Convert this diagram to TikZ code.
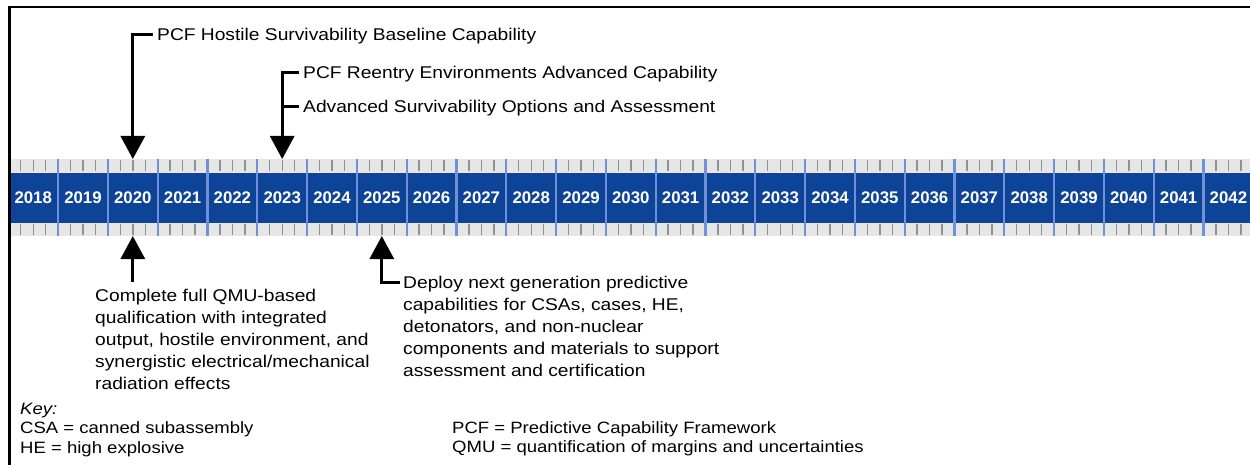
\documentclass[tikz,border=0pt]{standalone}
\usepackage{fontspec}
\setmainfont{Liberation Sans}[FakeStretch=1.13]
\newfontfamily\yearfont{Liberation Sans}
\usetikzlibrary{arrows.meta,calc}
\definecolor{bandblue}{RGB}{14,68,152}
\definecolor{divblue}{RGB}{112,144,216}
\definecolor{stripgray}{RGB}{230,230,230}
\definecolor{tickgray}{RGB}{145,145,145}
\begin{document}
\begin{tikzpicture}[x=1pt,y=-1pt,
  body/.style={font=\fontsize{17}{22}\selectfont, inner sep=0pt, align=left},
  keytext/.style={font=\fontsize{16.4}{19.5}\selectfont, inner sep=0pt, align=left},
  yearlbl/.style={font=\yearfont\bfseries\fontsize{16.8}{16.8}\selectfont, text=white, inner sep=0pt, text height=12pt, text depth=0pt},
  conn/.style={line width=3pt, line join=miter, line cap=butt},
  pointer/.style={conn, -{Triangle[width=24pt,length=23pt]}},
  tick/.style={tickgray, line width=1.4pt},
  divider/.style={divblue, line width=2.2pt}
]
\useasboundingbox (0,0) rectangle (1250,465);
\fill[white] (0,0) rectangle (1250,465);
% timeline band
\fill[stripgray] (9,159) rectangle (1250,173);
\fill[bandblue] (9,173) rectangle (1250,223);
\fill[stripgray] (9,223) rectangle (1250,236);
\coordinate (topedge) at (0,159);
\coordinate (botedge) at (0,236);
\foreach \i in {0,...,24} {
  \pgfmathsetmacro\xa{8.3+49.8*\i}
  \foreach \k in {1,2,3} {
    \draw[tick] (\xa+12.45*\k,160.5) -- (\xa+12.45*\k,171.5);
    \draw[tick] (\xa+12.45*\k,224.5) -- (\xa+12.45*\k,234.5);
  }
}
\foreach \i in {1,...,25} {
  \draw[divider] (8.3+49.8*\i,159) -- (8.3+49.8*\i,236);
}
\foreach \i in {0,...,24} {
  \pgfmathtruncatemacro\yr{2018+\i}
  \pgfmathsetmacro\xc{8.3+49.8*(\i+0.5)}
  \node[yearlbl] (y\yr) at (\xc,198) {\yr};
}
% texts
\node[body, anchor=base west] (t1) at (157,41) {PCF Hostile Survivability Baseline Capability};
\node[body, anchor=base west] (t2) at (303,79) {PCF Reentry Environments Advanced Capability};
\node[body, anchor=base west] (t3) at (303,113) {Advanced Survivability Options and Assessment};
\node[body, anchor=north west] (t4) at (95,287) {\rule{0pt}{14pt}Complete full QMU-based\\qualification with integrated\\output, hostile environment, and\\synergistic electrical/mechanical\\radiation effects};
\node[body, anchor=north west] (t5) at (403,274) {\rule{0pt}{14pt}Deploy next generation predictive\\capabilities for CSAs, cases, HE,\\detonators, and non-nuclear\\components and materials to support\\assessment and certification};
\node[keytext, anchor=north west] (key) at (20,400) {\rule{0pt}{14pt}\textit{Key:}\\CSA = canned subassembly\\HE = high explosive};
\node[keytext, anchor=north west] (key2) at (452,419) {\rule{0pt}{14pt}PCF = Predictive Capability Framework\\QMU = quantification of margins and uncertainties};
% connectors
\draw[pointer] ([shift={(-4pt,6pt)}]t1.base west) -| (y2020 |- topedge);
\draw[pointer] ([shift={(-4pt,6pt)}]t2.base west) -| (y2023 |- topedge);
\coordinate (t3s) at ([shift={(-4pt,6pt)}]t3.base west);
\draw[conn] (t3s) -- (t3s -| y2023);
\draw[pointer] ($(y2020 |- t4.north)+(0,-5)$) -- (y2020 |- botedge);
\draw[pointer] ([shift={(-3pt,-8pt)}]t5.north west) -| (y2025 |- botedge);
% frame
\draw[line width=2.5pt] (9.3,465) -- (9.3,7.2) -- (1250,7.2);
\end{tikzpicture}
\end{document}
